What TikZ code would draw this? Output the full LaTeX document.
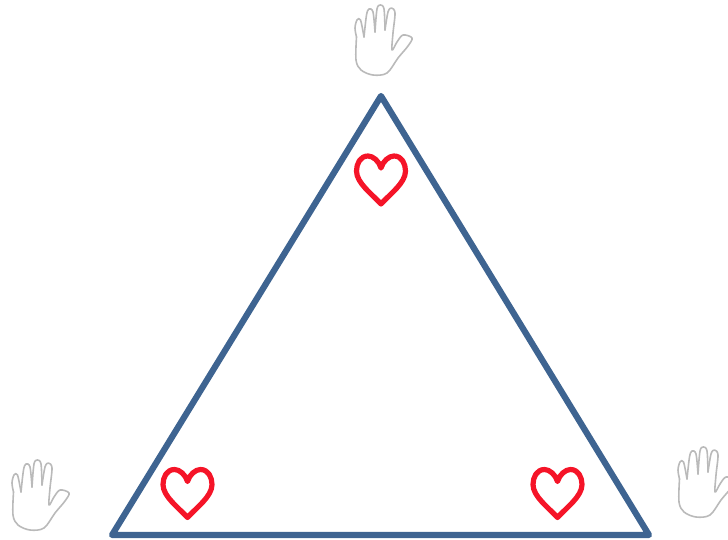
\documentclass[tikz,border=0pt]{standalone}
\definecolor{triblue}{RGB}{62,100,145}
\definecolor{heartred}{RGB}{245,20,40}
\tikzset{
  triline/.style={draw=triblue,line width=6.2pt,line join=round,line cap=round},
  heartline/.style={draw=heartred,line width=5.2pt,line join=round},
  handline/.style={draw=black!27,line width=1.6pt,line join=round,line cap=round},
  handpic/.pic={
    % local coordinates: pixels of the top hand, origin at (340,0)
    \draw[handline] plot[smooth,tension=.55] coordinates {
      (16.5,37) (16,60) (21,70) (33,75) (47,73) (58,58) (68,46) (72,38)
      (63,35) (57,42) (52,50) (53,33) (55,13) (51.5,8)
      (48,12) (45,30)};
    \draw[handline] plot[smooth,tension=.55] coordinates {
      (45,30) (44,9) (40.5,5) (37,9) (35,32)};
    \draw[handline] plot[smooth,tension=.55] coordinates {
      (35,32) (33,12) (29,9) (26.5,15) (24,37)};
    \draw[handline] plot[smooth,tension=.55] coordinates {
      (24,37) (20.5,20) (17,20) (15,28) (16.5,37)};
  },
  heartpic/.pic={
    % origin at the centre of the heart
    \draw[heartline] (0,-12)
      .. controls (-2,-19) and (-8,-24) .. (-13,-24)
      .. controls (-21,-24) and (-24.5,-16) .. (-24.5,-9)
      .. controls (-24.5,3) and (-9,14) .. (0,24)
      .. controls (9,14) and (24.5,3) .. (24.5,-9)
      .. controls (24.5,-16) and (21,-24) .. (13,-24)
      .. controls (8,-24) and (2,-19) .. cycle;
  }
}
\begin{document}
\begin{tikzpicture}[x=1pt,y=-1pt]
  \useasboundingbox (0,0) rectangle (728,540);
  \clip (0,0) rectangle (728,540);
  \coordinate (apex) at (381,96);
  \coordinate (left) at (112,535);
  \coordinate (right) at (649,535);
  \draw[triline] (apex) -- (left) -- (right) -- cycle;
  \pic at (381,180) {heartpic};
  \pic at (187.5,493.5) {heartpic};
  \pic at (557.5,493.5) {heartpic};
  \pic at (340,0) {handpic};
  \pic at (-3,455) {handpic};
  \pic at (663,442) {handpic};
\end{tikzpicture}
\end{document}
